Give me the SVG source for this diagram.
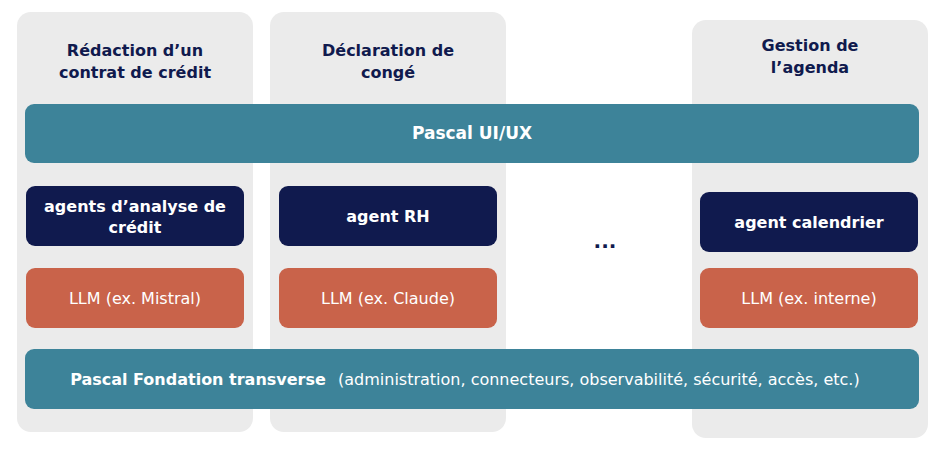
<svg xmlns="http://www.w3.org/2000/svg" width="945" height="450" viewBox="0 0 945 450">
<style>
.col{fill:#ebebeb}
.bar{fill:#3d8399}
.navy{fill:#101a4e}
.or{fill:#c9634a}
text{font-family:"DejaVu Sans","Noto Sans",sans-serif;font-size:16px;text-anchor:middle}
.h{fill:#101a4e;font-weight:bold}
.w{fill:#fff}
.b{font-weight:bold}
</style>
<rect width="945" height="450" fill="#fff"/>
<g id="col1"><rect class="col" x="17" y="12" width="236" height="420" rx="14"/>
<text class="h" x="135" y="56">Rédaction d’un</text><text class="h" x="135" y="78">contrat de crédit</text></g>
<g id="col2"><rect class="col" x="270" y="12" width="236" height="420" rx="14"/>
<text class="h" x="388" y="56">Déclaration de</text><text class="h" x="388" y="78">congé</text></g>
<g id="col3"><rect class="col" x="692" y="20" width="236" height="418" rx="14"/>
<text class="h" x="810" y="51">Gestion de</text><text class="h" x="810" y="73">l’agenda</text></g>
<g id="ui"><rect class="bar" x="25" y="104" width="894" height="59" rx="9"/>
<text class="w b" x="472" y="139" style="font-size:17px">Pascal UI/UX</text></g>
<g id="agent1"><rect class="navy" x="26" y="186" width="218" height="60" rx="9"/>
<text class="w b" x="135" y="212">agents d’analyse de</text><text class="w b" x="135" y="233">crédit</text></g>
<g id="agent2"><rect class="navy" x="279" y="186" width="218" height="60" rx="9"/>
<text class="w b" x="388" y="222">agent RH</text></g>
<g id="agent3"><rect class="navy" x="700" y="192" width="218" height="60" rx="9"/>
<text class="w b" x="809" y="228">agent calendrier</text></g>
<g id="dots"><text class="h" x="605" y="248" style="font-size:20px">...</text></g>
<g id="llm1"><rect class="or" x="26" y="268" width="218" height="60" rx="9"/>
<text class="w" x="135" y="304">LLM (ex. Mistral)</text></g>
<g id="llm2"><rect class="or" x="279" y="268" width="218" height="60" rx="9"/>
<text class="w" x="388" y="304">LLM (ex. Claude)</text></g>
<g id="llm3"><rect class="or" x="700" y="268" width="218" height="60" rx="9"/>
<text class="w" x="809" y="304">LLM (ex. interne)</text></g>
<g id="fond"><rect class="bar" x="25" y="349" width="894" height="60" rx="9"/>
<text class="w b" x="198" y="385">Pascal Fondation transverse</text>
<text class="w" x="338" y="385" style="text-anchor:start">(administration, connecteurs, observabilité, sécurité, accès, etc.)</text></g>
<g id="connectors"/>
</svg>
